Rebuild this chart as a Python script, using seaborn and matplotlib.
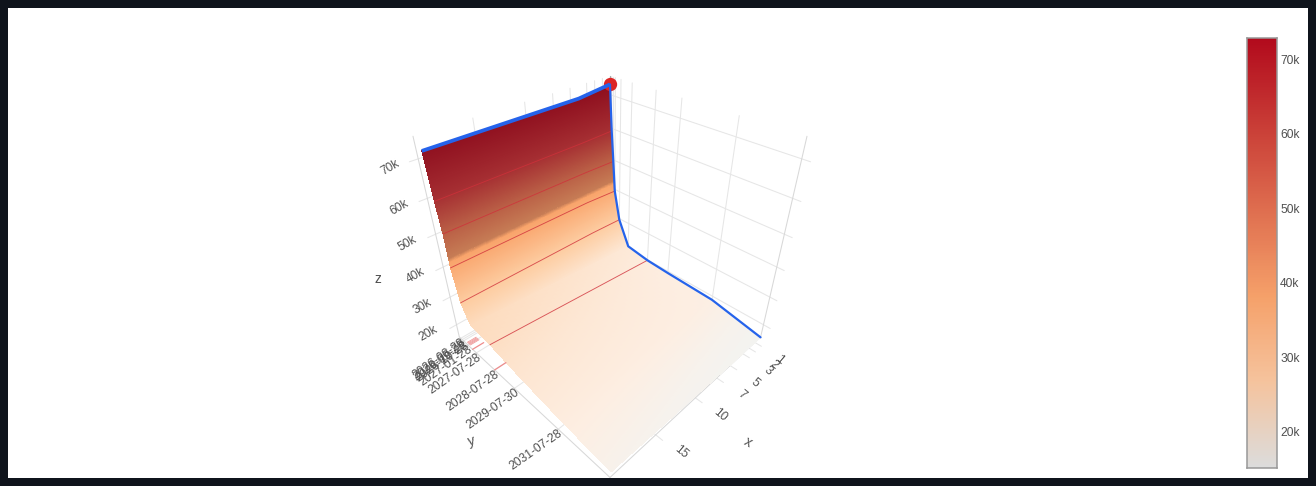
import numpy as np
import pandas as pd
import matplotlib
matplotlib.use('Agg')
import matplotlib.pyplot as plt
import matplotlib.dates as mdates
from matplotlib.colors import LinearSegmentedColormap
from matplotlib.patches import Rectangle
from mpl_toolkits.mplot3d import proj3d
import seaborn as sns

# values
y_dates = ['2026-07-28', '2026-08-28', '2026-09-28', '2026-10-28', '2027-01-28',
           '2027-07-28', '2028-07-28', '2029-07-30', '2031-07-28', '2033-07-28']
x_mid = 4
x_end = [19.6, 19.6, 19.6, 19.7, 19.8, 20, 20, 20, 20, 19.9]
z_at_x0 = [72960, 59200, 49500, 39400, 29600, 21100, 19800, 19300, 18600, 15160]
z_at_mid = [71800, 59000, 49800, 40000, 30000, 22000, 20760, 20000, 19000, 15400]
z_at_end = [71500, 59000, 50200, 40400, 30300, 25500, 24600, 22800, 20000, 17000]

x_ticks = [1, 2, 3, 5, 7, 10, 15]
y_tick_labels = ['2026-08-28', '2026-09-28', '2026-10-28', '2027-01-28',
                 '2027-07-28', '2028-07-28', '2029-07-30', '2031-07-28']
z_ticks = [20000, 30000, 40000, 50000, 60000, 70000]
z_tick_labels = ['20k', '30k', '40k', '50k', '60k', '70k']

contour_dates = ['2026-08-28', '2026-09-28', '2026-10-28', '2027-01-28', '2028-07-28']
floor_stub_dates = ['2027-05-10', '2028-07-28']
floor_hatch_dates = ['2026-12-20', '2027-01-05', '2027-01-20', '2027-02-05', '2027-02-20']

x_range = (0, 20)
y_range = ('2026-07-28', '2033-07-28')
z_range = (15300, 75300)

# plotly's old Reds scale, and the same scale as the lighting turns it on the surface
bar_scale = [(0, '#dcdcdc'), (0.2, '#f5c39d'), (0.4, '#f5a069'), (1, '#b20a1c')]
lit_z = [15160, 16500, 19000, 22000, 30000, 42200, 43400, 50000, 60000, 72960]
lit_colors = ['#f3f3f0', '#f6f2ed', '#fdeee2', '#fde6d2', '#fdcda2', '#f9a46b',
              '#c67c55', '#bb6247', '#a52e32', '#8e0e1e']

BLUE = '#2563eb'
RED = '#dc2626'
GRID = '#e6e6e6'
EDGE = '#d8d8d8'
TEXT = '#505050'

sns.set_theme(style='white')
plt.rcParams['font.family'] = ['Liberation Sans', 'DejaVu Sans']

fig = plt.figure(figsize=(13.16, 4.86), dpi=100, facecolor='white')
ax = fig.add_axes([363.5 / 1316, -10.5 / 486, 480 / 1316, 480 / 486],
                  projection='3d', computed_zorder=False)
ax.set_box_aspect((1, 1, 1), zoom=0.8458)
ax.set_proj_type('persp', focal_length=0.2015)
ax.view_init(elev=35.264, azim=45)
ax.set_axis_off()


def to_num(dates):
    return mdates.date2num(pd.to_datetime(dates))


y_num = to_num(y_dates)
y_lo, y_hi = to_num(list(y_range))
y_span = y_hi - y_lo
x_span = x_range[1] - x_range[0]
z_lo, z_hi = z_range
ax.set_xlim(*x_range, view_margin=0)
ax.set_ylim(y_lo, y_hi, view_margin=0)
ax.set_zlim(z_lo, z_hi, view_margin=0)

# fine mesh only so the colour can run smoothly along each flat piece of the surface
y_fine = np.concatenate([np.linspace(a, b, 70, endpoint=False) for a, b in zip(y_num[:-1], y_num[1:])] + [[y_num[-1]]])
x_end_fine = np.interp(y_fine, y_num, x_end)
X = np.outer(x_end_fine, np.linspace(0, 1, 41))
Y = np.repeat(y_fine[:, None], 41, axis=1)
columns = [np.interp(y_fine, y_num, col) for col in (z_at_x0, z_at_mid, z_at_end)]
Z = np.array([np.interp(X[i], [0, x_mid, x_end_fine[i]], [c[i] for c in columns]) for i in range(len(y_fine))])

lit_pos = (np.array(lit_z) - lit_z[0]) / (lit_z[-1] - lit_z[0])
lit_cmap = LinearSegmentedColormap.from_list('lit', list(zip(lit_pos, lit_colors)), N=1024)
face = lit_cmap((Z - lit_z[0]) / (lit_z[-1] - lit_z[0]))

# walls and floor
for z in z_ticks:
    ax.plot([0, 0], [y_lo, y_hi + 0.035 * y_span], [z, z], color=GRID, lw=0.75, zorder=1)
    ax.plot([-0.0, 20 + 0.035 * x_span], [y_lo, y_lo], [z, z], color=GRID, lw=0.75, zorder=1)
for d in to_num(y_tick_labels):
    ax.plot([0, 0], [d, d], [z_lo, z_hi], color=GRID, lw=0.75, zorder=1)
    ax.plot([0, 20 + 0.035 * x_span], [d, d], [z_lo, z_lo], color=GRID, lw=0.75, zorder=1)
for x in x_ticks:
    ax.plot([x, x], [y_lo, y_lo], [z_lo, z_hi], color=GRID, lw=0.75, zorder=1)
    ax.plot([x, x], [y_lo, y_hi + 0.035 * y_span], [z_lo, z_lo], color=GRID, lw=0.75, zorder=1)
ax.plot([0, 20], [y_hi, y_hi], [z_lo, z_lo], color=EDGE, lw=0.75, zorder=1)
ax.plot([20, 20], [y_lo, y_hi], [z_lo, z_lo], color=EDGE, lw=0.75, zorder=1)
ax.plot([20, 20], [y_lo, y_lo], [z_lo, z_hi], color=EDGE, lw=0.75, zorder=1)
ax.plot([0, 0], [y_hi, y_hi], [z_lo, z_hi], color=EDGE, lw=0.75, zorder=1)
ax.plot([0, 0], [y_lo, y_lo], [z_lo, z_hi], color='#a8a8a8', lw=0.9, zorder=1)

ax.plot_surface(X, Y, Z, facecolors=face, rstride=1, cstride=1, shade=False,
                linewidth=0, antialiased=False, zorder=2)

# lines of constant date across the surface
for d in contour_dates:
    i = y_dates.index(d)
    ax.plot([0, x_mid, x_end[i]], [y_num[i]] * 3, [z_at_x0[i], z_at_mid[i], z_at_end[i]],
            color='#d0303a', lw=0.65, alpha=0.8, zorder=3)
for d in to_num(floor_stub_dates):
    ax.plot([20, 18.8], [d, d], [z_lo, z_lo], color='#ee8c8c', lw=0.9, zorder=3)
for d in to_num(floor_hatch_dates):
    ax.plot([19.85, 18.9], [d, d], [z_lo, z_lo], color='#f09a9a', lw=0.6, zorder=3)

ax.plot([0], [y_num[0]], [z_at_x0[0]], 'o', color=RED, ms=9.6, mew=0, zorder=3.5)
ax.plot([0, x_mid, x_end[0]], [y_num[0]] * 3, [z_at_x0[0], z_at_mid[0], z_at_end[0]],
        color=BLUE, lw=2.7, solid_capstyle='butt', zorder=4)
ax.plot([0] * len(y_num), y_num, z_at_x0, color=BLUE, lw=1.6, zorder=4)


def label(txt, x, y, z, dx, dy, rot, size=8.64):
    px, py = proj3d.proj_transform(x, y, z, ax.get_proj())[:2]
    ax.annotate(txt, xy=(px, py), xycoords='data', xytext=(dx, dy), textcoords='offset pixels',
                ha='center', va='center', rotation=rot, rotation_mode='anchor',
                fontsize=size, color=TEXT, annotation_clip=False)


for x in x_ticks:
    label(str(x), x, y_hi, z_lo, 25, -17, -40)
for d, txt in zip(to_num(y_tick_labels), y_tick_labels):
    label(txt, 20, d, z_lo, -22, -21, 35)
for z, txt in zip(z_ticks, z_tick_labels):
    label(txt, 20, y_lo, z, -28, -9, 30)
label('x', 10, y_hi, z_lo, 53, -44, -30, 10)
label('y', 20, (y_lo + y_hi) / 2, z_lo, -53, -43, 15, 10)
label('z', 20, y_lo, (z_lo + z_hi) / 2, -61, -29, 0, 10)

# colour bar, one column of cells
reds = LinearSegmentedColormap.from_list('reds', bar_scale, N=512)
bar_lo, bar_hi = min(z_at_x0), max(z_at_x0)
bar_cells = np.linspace(bar_hi, bar_lo, 256).reshape(-1, 1)
cax = fig.add_axes([1247 / 1316, (486 - 468) / 486, 30 / 1316, 430 / 486])
sns.heatmap(bar_cells, ax=cax, cmap=reds, vmin=bar_lo, vmax=bar_hi, cbar=False,
            xticklabels=False, yticklabels=False)
cax.set_yticks([(bar_hi - z) / (bar_hi - bar_lo) * 256 - 0.3 for z in z_ticks])
cax.set_yticklabels(z_tick_labels, fontsize=8.64, color=TEXT, rotation=0)
cax.yaxis.tick_right()
cax.tick_params(axis='y', length=0, pad=2.3)
for side in cax.spines.values():
    side.set_visible(True)
    side.set_color('#989898')
    side.set_linewidth(1.1)

# dark page around the white card
fig.add_artist(Rectangle((0, 0), 1, 1, transform=fig.transFigure, fill=False,
                         edgecolor='#0f141c', linewidth=11.52, zorder=10))

fig.savefig('out.png', dpi=100)
